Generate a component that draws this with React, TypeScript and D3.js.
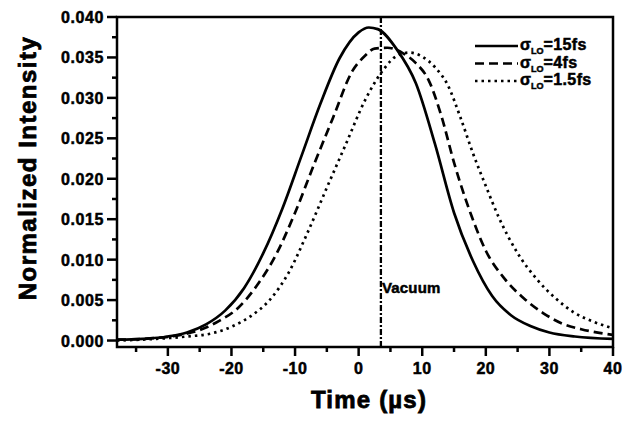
import React from 'react';
import * as d3 from 'd3';

// time (µs) and normalized intensity
const solidT = [-38, -34, -30, -27, -24, -21, -18, -15, -12, -9, -6, -3, 0, 1.6, 3, 6, 9, 12, 15, 18, 21, 24, 27, 30, 34, 40];
const solidV = [0.0001, 0.0002, 0.0005, 0.001, 0.002, 0.0037, 0.0065, 0.0108, 0.0163, 0.0228, 0.0293, 0.0349, 0.0381, 0.0387, 0.0385, 0.036, 0.0318, 0.0243, 0.0158, 0.0098, 0.0055, 0.0031, 0.0018, 0.001, 0.0005, 0.0002];

const dashT = [-38, -32, -28, -25, -22, -19, -16, -13, -10, -7, -4, -1, 1, 2.5, 4.5, 7, 9, 11, 13, 15, 17.8, 20, 23, 26, 29, 32, 35, 40];
const dashV = [0.0001, 0.0003, 0.0007, 0.0013, 0.0024, 0.004, 0.0068, 0.0106, 0.0158, 0.0218, 0.0276, 0.0333, 0.0352, 0.0361, 0.0362, 0.0355, 0.0343, 0.0322, 0.0278, 0.022, 0.0153, 0.0111, 0.0076, 0.0052, 0.0034, 0.0021, 0.0014, 0.0007];

const dotT = [-38, -32, -27, -23, -20, -17, -14, -11, -8, -5, -2, 1, 4, 6, 8, 10, 12, 14, 16, 18, 20, 22, 25, 28, 31, 34, 37, 40];
const dotV = [0.0, 0.0002, 0.0005, 0.0009, 0.0017, 0.003, 0.005, 0.0084, 0.0134, 0.0189, 0.0243, 0.0297, 0.0336, 0.0352, 0.0356, 0.0351, 0.0338, 0.0316, 0.0276, 0.0231, 0.0191, 0.0153, 0.0108, 0.0076, 0.0052, 0.0034, 0.0023, 0.0015];

const vacuumT = 3.5;
const xTicks = [-30, -20, -10, 0, 10, 20, 30, 40];
const xMinor = [-35, -25, -15, -5, 5, 15, 25, 35];
const yTicks = [0, 0.005, 0.01, 0.015, 0.02, 0.025, 0.03, 0.035, 0.04];
const yMinor = [0.0025, 0.0075, 0.0125, 0.0175, 0.0225, 0.0275, 0.0325, 0.0375];
const legendSub = ['15fs', '4fs', '1.5fs'];

const W = 628;
const H = 425;
const margin = { top: 17, right: 15, bottom: 78, left: 117 };
const FONT = '"Liberation Sans", Arial, sans-serif';

export default function App() {
  const x = d3.scaleLinear().domain([-38, 40]).range([margin.left, W - margin.right]);
  const y = d3.scaleLinear().domain([-0.0008, 0.04]).range([H - margin.bottom, margin.top]);

  const line = d3.line<[number, number]>()
    .x(d => x(d[0]))
    .y(d => y(d[1]))
    .curve(d3.curveMonotoneX);

  const series = [
    { pts: solidT.map((t, i) => [t, solidV[i]] as [number, number]), dash: 'none' },
    { pts: dashT.map((t, i) => [t, dashV[i]] as [number, number]), dash: '9,5' },
    { pts: dotT.map((t, i) => [t, dotV[i]] as [number, number]), dash: '2.5,4' },
  ];

  const bottom = H - margin.bottom;
  const left = margin.left;
  // heavy text look
  const heavy = { fontWeight: 'bold' as const, stroke: '#000', strokeWidth: 0.5 };

  return (
    <svg width={W} height={H} style={{ position: 'absolute', left: 0, top: 0, background: '#fff' }} fontFamily={FONT}>
      <defs>
        <clipPath id="plot">
          <rect x={left} y={margin.top} width={W - margin.right - left} height={bottom - margin.top} />
        </clipPath>
      </defs>

      <g clipPath="url(#plot)">
        {series.map((s, i) => (
          <path key={i} d={line(s.pts) || ''} fill="none" stroke="#000" strokeWidth={2.7}
            strokeDasharray={s.dash === 'none' ? undefined : s.dash} />
        ))}
        <line x1={x(vacuumT)} x2={x(vacuumT)} y1={margin.top} y2={bottom} stroke="#000"
          strokeWidth={2.3} strokeDasharray="6,2,2,2" />
      </g>

      <text x={x(vacuumT) + 1} y={293} fontSize={15} {...heavy} letterSpacing={0.2}>Vacuum</text>

      {/* frame */}
      <rect x={left} y={margin.top} width={W - margin.right - left} height={bottom - margin.top}
        fill="none" stroke="#000" strokeWidth={2.5} />

      {/* x axis */}
      {xTicks.map(t => (
        <g key={t}>
          <line x1={x(t)} x2={x(t)} y1={bottom} y2={bottom + 9} stroke="#000" strokeWidth={2.5} />
          <text x={x(t)} y={374} textAnchor="middle" fontSize={16} {...heavy} letterSpacing={0.5}>{t}</text>
        </g>
      ))}
      {xMinor.map(t => (
        <line key={t} x1={x(t)} x2={x(t)} y1={bottom} y2={bottom + 5} stroke="#000" strokeWidth={2.5} />
      ))}

      {/* y axis */}
      {yTicks.map(t => (
        <g key={t}>
          <line x1={left - 10} x2={left} y1={y(t)} y2={y(t)} stroke="#000" strokeWidth={2.5} />
          <text x={left - 13} y={y(t) + 6} textAnchor="end" fontSize={16} {...heavy} letterSpacing={0.6}>{d3.format('.3f')(t)}</text>
        </g>
      ))}
      {yMinor.map(t => (
        <line key={t} x1={left - 5} x2={left} y1={y(t)} y2={y(t)} stroke="#000" strokeWidth={2.5} />
      ))}

      <text x={369} y={408} textAnchor="middle" fontSize={24} {...heavy} strokeWidth={0.8} letterSpacing={1.2}>Time (µs)</text>
      <text transform="translate(36,168) rotate(-90)" textAnchor="middle" fontSize={24} {...heavy} strokeWidth={0.8} letterSpacing={1.5}>Normalized Intensity</text>

      {/* legend */}
      {series.map((s, i) => {
        const ly = 46 + i * 17.5;
        return (
          <g key={i}>
            <line x1={475} x2={518} y1={ly} y2={ly} stroke="#000" strokeWidth={2.7}
              strokeDasharray={s.dash === 'none' ? undefined : s.dash} />
            <text x={520} y={ly + 4} fontSize={16} {...heavy}>
              σ<tspan fontSize={9} dy={4}>LO</tspan><tspan dy={-4} letterSpacing={0.4}>={legendSub[i]}</tspan>
            </text>
          </g>
        );
      })}
    </svg>
  );
}
